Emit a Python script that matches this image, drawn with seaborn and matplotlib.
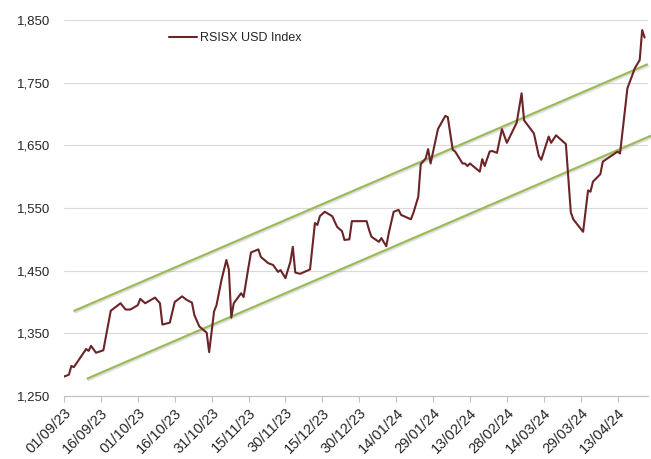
import pandas as pd
import matplotlib
matplotlib.use("Agg")
import matplotlib.pyplot as plt
import matplotlib.dates as mdates
import matplotlib.patheffects as pe
from matplotlib.ticker import FuncFormatter
import seaborn as sns

# data
dates = [
    "2023-09-01", "2023-09-03", "2023-09-04", "2023-09-05", "2023-09-10", "2023-09-11",
    "2023-09-12", "2023-09-14", "2023-09-17", "2023-09-20", "2023-09-24", "2023-09-26",
    "2023-09-28", "2023-10-01", "2023-10-02", "2023-10-04", "2023-10-08", "2023-10-10",
    "2023-10-11", "2023-10-14", "2023-10-16", "2023-10-19", "2023-10-21", "2023-10-23",
    "2023-10-24", "2023-10-26", "2023-10-29", "2023-10-30", "2023-11-01", "2023-11-02",
    "2023-11-04", "2023-11-06", "2023-11-07", "2023-11-08", "2023-11-09", "2023-11-12",
    "2023-11-13", "2023-11-15", "2023-11-16", "2023-11-19", "2023-11-20", "2023-11-23",
    "2023-11-25", "2023-11-27", "2023-11-28", "2023-11-30", "2023-12-02", "2023-12-03",
    "2023-12-04", "2023-12-06", "2023-12-10", "2023-12-12", "2023-12-13", "2023-12-14",
    "2023-12-16", "2023-12-19", "2023-12-21", "2023-12-23", "2023-12-24", "2023-12-26",
    "2023-12-27", "2024-01-02", "2024-01-03", "2024-01-04", "2024-01-07", "2024-01-08",
    "2024-01-10", "2024-01-11", "2024-01-13", "2024-01-15", "2024-01-16", "2024-01-20",
    "2024-01-21", "2024-01-23", "2024-01-24", "2024-01-26", "2024-01-27", "2024-01-28",
    "2024-01-31", "2024-02-03", "2024-02-04", "2024-02-06", "2024-02-07", "2024-02-10",
    "2024-02-11", "2024-02-12", "2024-02-13", "2024-02-17", "2024-02-18", "2024-02-19",
    "2024-02-21", "2024-02-22", "2024-02-24", "2024-02-26", "2024-02-28", "2024-03-03",
    "2024-03-05", "2024-03-06", "2024-03-10", "2024-03-12", "2024-03-13", "2024-03-16",
    "2024-03-17", "2024-03-19", "2024-03-23", "2024-03-25", "2024-03-26", "2024-03-30",
    "2024-04-01", "2024-04-02", "2024-04-03", "2024-04-06", "2024-04-07", "2024-04-13",
    "2024-04-14", "2024-04-16", "2024-04-17", "2024-04-19", "2024-04-20", "2024-04-22",
    "2024-04-23", "2024-04-24",
]
index_values = [
    1281, 1284, 1298, 1296, 1325, 1322,
    1330, 1319, 1323, 1386, 1398, 1388,
    1388, 1395, 1405, 1398, 1407, 1398,
    1364, 1367, 1400, 1409, 1403, 1399,
    1379, 1361, 1351, 1320, 1385, 1395,
    1435, 1467, 1452, 1375, 1398, 1414,
    1408, 1456, 1479, 1484, 1472, 1462,
    1459, 1448, 1451, 1438, 1464, 1488,
    1447, 1445, 1452, 1526, 1523, 1537,
    1544, 1537, 1520, 1513, 1499, 1500,
    1529, 1529, 1515, 1504, 1496, 1502,
    1489, 1510, 1544, 1547, 1539, 1532,
    1542, 1568, 1620, 1629, 1644, 1621,
    1676, 1697, 1695, 1643, 1640, 1621,
    1621, 1617, 1621, 1608, 1628, 1617,
    1640, 1641, 1638, 1676, 1654, 1686,
    1733, 1690, 1669, 1633, 1627, 1664,
    1654, 1666, 1652, 1543, 1532, 1512,
    1578, 1576, 1592, 1604, 1624, 1640,
    1637, 1706, 1741, 1762, 1773, 1786,
    1834, 1822,
]

# channel lines (start / end)
upper_dates = ["2023-09-05 05:00", "2024-04-25 00:00"]
upper_values = [1386, 1779]
lower_dates = ["2023-09-10 14:00", "2024-04-26 10:00"]
lower_values = [1278, 1665]

tick_labels = ["01/09/23", "16/09/23", "01/10/23", "16/10/23", "31/10/23", "15/11/23",
               "30/11/23", "15/12/23", "30/12/23", "14/01/24", "29/01/24", "13/02/24",
               "28/02/24", "14/03/24", "29/03/24", "13/04/24"]
y_ticks = [1250, 1350, 1450, 1550, 1650, 1750, 1850]

df = pd.DataFrame({"Date": pd.to_datetime(dates), "RSISX USD Index": index_values})

sns.set_theme(style="white")
plt.rcParams["font.family"] = ["Liberation Sans", "DejaVu Sans"]

fig = plt.figure(figsize=(6.51, 4.59), dpi=100)
ax = fig.add_axes([64 / 651, 1 - 396 / 459, 584 / 651, 376 / 459])

green = "#9BBB59"
shadow = [pe.SimpleLineShadow(offset=(0.6, -1.2), shadow_color="#999999", alpha=0.3),
          pe.Normal()]
ax.plot(pd.to_datetime(upper_dates), upper_values, color=green, lw=1.6,
        clip_on=False, path_effects=shadow, zorder=2)
ax.plot(pd.to_datetime(lower_dates), lower_values, color=green, lw=1.6,
        clip_on=False, path_effects=shadow, zorder=2)

sns.lineplot(data=df, x="Date", y="RSISX USD Index", ax=ax, color="#6B2427",
             lw=1.5, label="RSISX USD Index", zorder=3)

ax.set_xlim(pd.Timestamp("2023-09-01"), pd.Timestamp("2024-04-25 09:00"))
ax.set_ylim(1250, 1850)
ax.set_yticks(y_ticks)
ax.yaxis.set_major_formatter(FuncFormatter(lambda v, p: f"{v:,.0f}"))
ax.grid(axis="y", color="#D9D9D9", lw=0.8)
ax.set_axisbelow(True)

ax.set_xticks(pd.to_datetime(tick_labels, format="%d/%m/%y"))
ax.xaxis.set_major_formatter(mdates.DateFormatter("%d/%m/%y"))
plt.setp(ax.get_xticklabels(), rotation=45, ha="right", rotation_mode="anchor")
ax.tick_params(axis="x", direction="out", length=4, width=0.8, color="#BFBFBF",
               labelsize=10.5, pad=3, bottom=True)
ax.tick_params(axis="y", length=0, labelsize=9.5, pad=10)
ax.set_xlabel("")
ax.set_ylabel("")

for side in ["top", "right", "left"]:
    ax.spines[side].set_visible(False)
ax.spines["bottom"].set_color("#BFBFBF")
ax.spines["bottom"].set_linewidth(0.8)

ax.legend(loc="center left", bbox_to_anchor=(169 / 651, 1 - 38 / 459),
          bbox_transform=fig.transFigure, frameon=False, fontsize=9,
          handlelength=2.2, handletextpad=0.25, borderpad=0, borderaxespad=0)

# title sits above the visible area; only descenders show
fig.text(464 / 651, 1 + 5 / 459, "Equity", ha="right", va="baseline",
         fontsize=17, weight="bold", color="black")

fig.savefig("out.png", dpi=100)
